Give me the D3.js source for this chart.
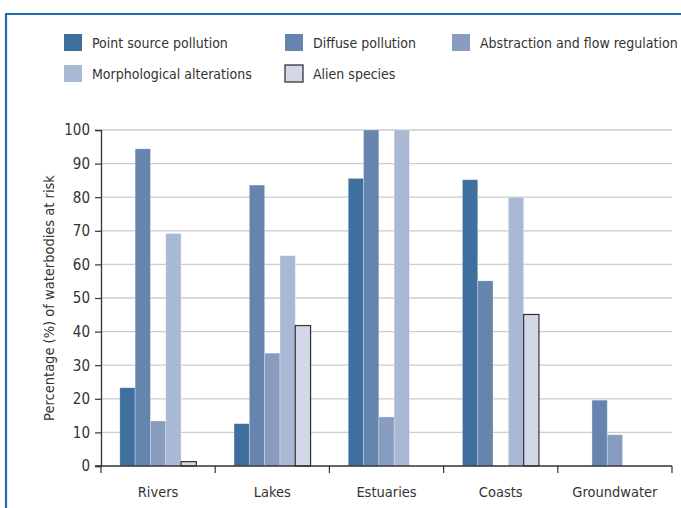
<!DOCTYPE html>
<html><head><meta charset="utf-8">
<script src="https://cdn.jsdelivr.net/npm/d3@7"></script>
<style>
body{margin:0;background:#fff;}
svg{display:block;}
text{font-family:"DejaVu Sans Condensed","DejaVu Sans",sans-serif;font-stretch:condensed;fill:#333;}
</style></head>
<body><svg id="c" width="681" height="508"></svg>
<script>
const categories = ["Rivers","Lakes","Estuaries","Coasts","Groundwater"];
const seriesNames = ["Point source pollution","Diffuse pollution","Abstraction and flow regulation","Morphological alterations","Alien species"];
const pointSource = [23.3, 12.6, 85.6, 85.2, 0];
const diffuse = [94.4, 83.6, 100, 55.1, 19.6];
const abstraction = [13.4, 33.6, 14.6, 0, 9.3];
const morphological = [69.2, 62.6, 100, 80, 0];
const alien = [1.3, 41.8, 0, 45.1, 0];
const yTicks = [0,10,20,30,40,50,60,70,80,90,100];
const colors = ["#3e6f9e","#6585ae","#889cbf","#a9b8d4","#d2d8e7"];

(function(){
const series = [pointSource, diffuse, abstraction, morphological, alien];
const svg = d3.select("#c");
const mL = 101, mR = 672, mT = 130, mB = 466;

// frame
svg.append("path").attr("d","M6,520 L6,14 L690,14").attr("fill","none").attr("stroke","#1f6db0").attr("stroke-width",2.2);

const x = d3.scaleBand().domain(categories).range([mL, mR]).paddingInner(0).paddingOuter(0);
const x1 = d3.scaleBand().domain(d3.range(5)).range([0, x.bandwidth()]).paddingInner(0).paddingOuter(1.23);
const y = d3.scaleLinear().domain([0,100]).range([mB, mT]);

// grid
svg.append("g").selectAll("line").data(yTicks.filter(d=>d>0)).join("line")
  .attr("x1", mL).attr("x2", mR).attr("y1", d=>y(d)).attr("y2", d=>y(d))
  .attr("stroke","#cccccc").attr("stroke-width",1.3);

// bars
const groups = svg.append("g").selectAll("g").data(categories).join("g")
  .attr("transform", d=>`translate(${x(d)},0)`);
groups.selectAll("rect").data((c,ci)=>series.map((s,si)=>({si, v:s[ci]})).filter(d=>d.v>0)).join("rect")
  .attr("x", d=>x1(d.si)).attr("width", x1.bandwidth())
  .attr("y", d=>y(d.v)).attr("height", d=>y(0)-y(d.v))
  .attr("fill", d=>colors[d.si])
  .attr("stroke", d=>d.si===4 ? "#333" : "rgba(255,255,255,0.35)")
  .attr("stroke-width", d=>d.si===4 ? 1.2 : 0.8);

// y axis
const ya = svg.append("g").attr("transform",`translate(${mL},0)`)
  .call(d3.axisLeft(y).tickValues(yTicks).tickSize(6).tickPadding(5));
ya.select(".domain").attr("stroke","#333").attr("stroke-width",1.3);
ya.selectAll(".tick line").attr("stroke","#333").attr("stroke-width",1.2);
ya.selectAll(".tick text").attr("font-size",15).attr("fill","#333")
  .style("font-family",'"DejaVu Sans Condensed","DejaVu Sans",sans-serif');

// x axis
const xa = svg.append("g").attr("transform",`translate(0,${mB})`);
xa.append("line").attr("x1",mL-6).attr("x2",mR).attr("y1",0).attr("y2",0).attr("stroke","#333").attr("stroke-width",1.3);
const bounds = categories.map(c=>x(c)).concat([mR]);
xa.selectAll("line.t").data(bounds).join("line").attr("class","t")
  .attr("x1",d=>d).attr("x2",d=>d).attr("y1",0).attr("y2",7).attr("stroke","#333").attr("stroke-width",1.2);
xa.selectAll("text").data(categories).join("text")
  .attr("x", d=>x(d)+x.bandwidth()/2).attr("y", 31).attr("text-anchor","middle")
  .attr("font-size",14.5).text(d=>d);

// y label
svg.append("text").attr("transform","translate(54,298) rotate(-90)").attr("text-anchor","middle")
  .attr("font-size",14.5).attr("fill","#444").text("Percentage (%) of waterbodies at risk");

// legend
const legendPos = [[64,34],[285,34],[452,34],[64,65],[285,65]];
const lg = svg.append("g").selectAll("g").data(seriesNames).join("g")
  .attr("transform",(d,i)=>`translate(${legendPos[i][0]},${legendPos[i][1]})`);
lg.append("rect").attr("width",18).attr("height",17)
  .attr("fill",(d,i)=>colors[i]).attr("stroke",(d,i)=>i===4?"#333":"none").attr("stroke-width",1.3);
lg.append("text").attr("x",28).attr("y",14).attr("font-size",14).text(d=>d);
})();
</script></body></html>
